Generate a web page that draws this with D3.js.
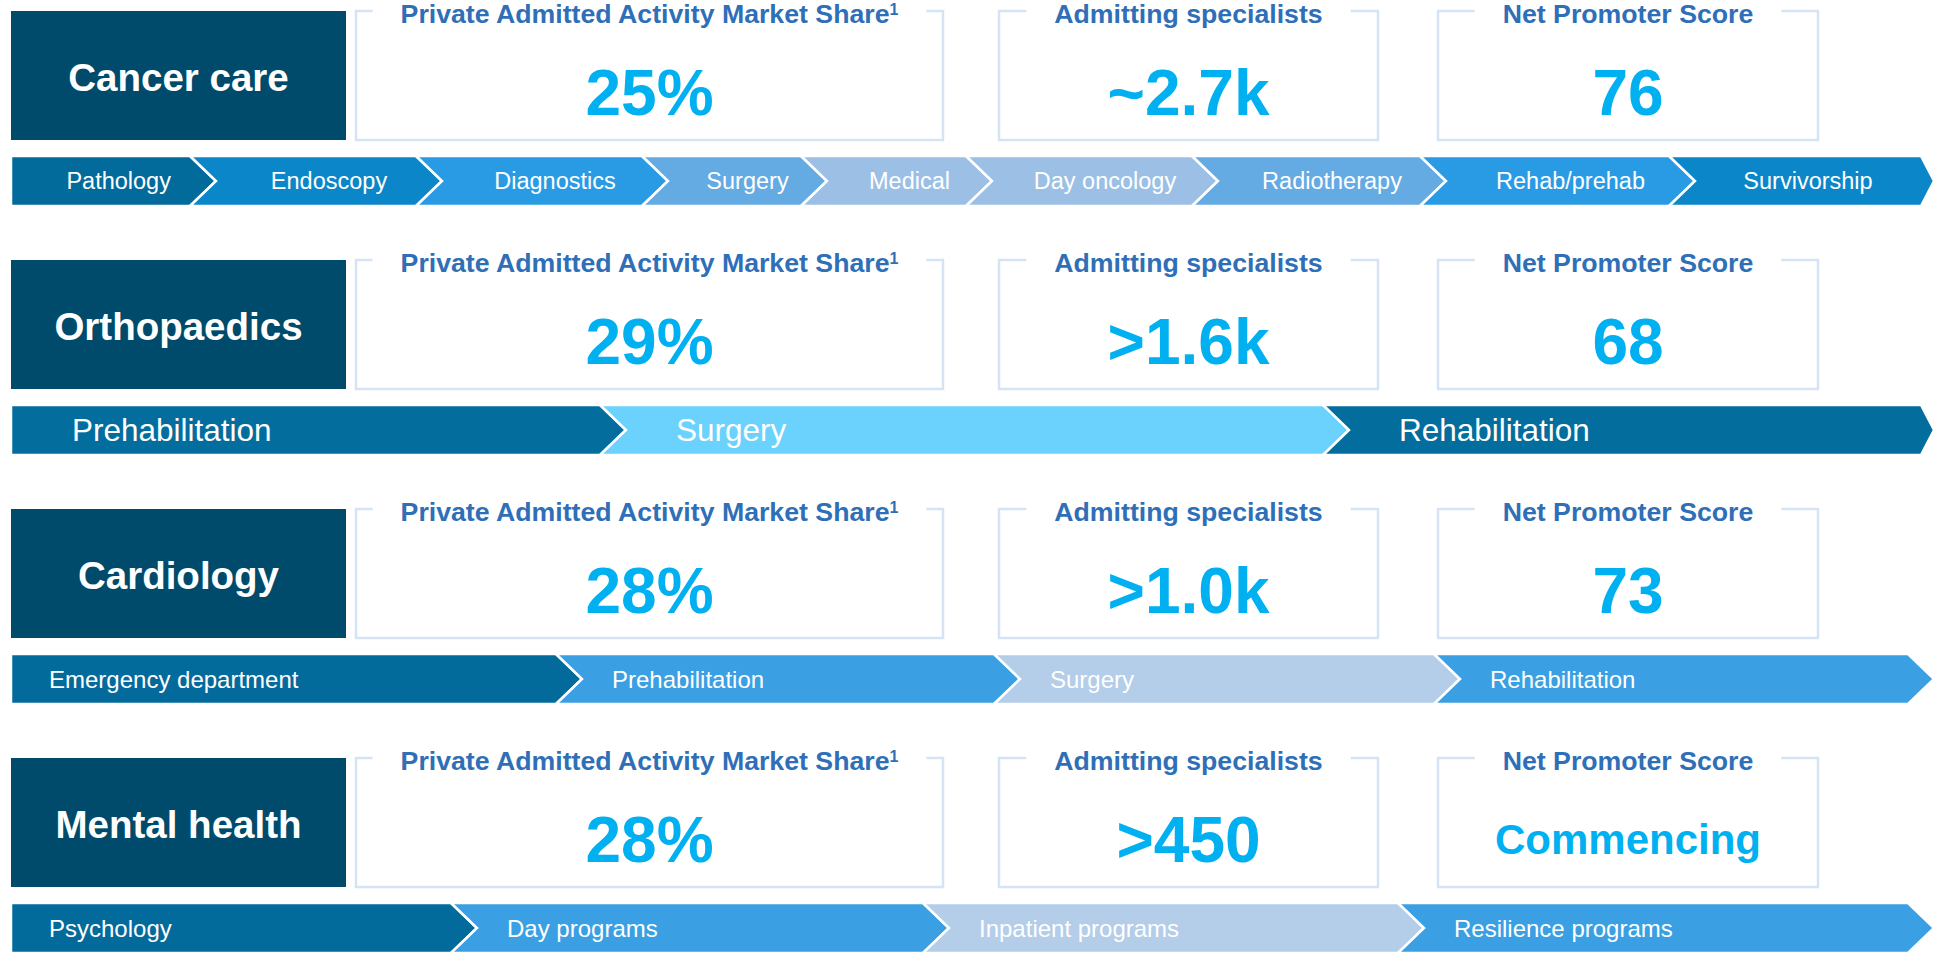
<!DOCTYPE html>
<html>
<head>
<meta charset="utf-8">
<script src="https://cdn.jsdelivr.net/npm/d3@7/dist/d3.min.js"></script>
<style>
  html, body { margin: 0; padding: 0; background: #ffffff; }
  svg { display: block; font-family: "Liberation Sans", Arial, Helvetica, sans-serif; }
</style>
</head>
<body>
<script>
// ---------------- DATA ----------------
const categories = ["Cancer care", "Orthopaedics", "Cardiology", "Mental health"];
const metricTitles = ["Private Admitted Activity Market Share", "Admitting specialists", "Net Promoter Score"];
const titleFootnotes = ["1", "", ""];
const marketShare = ["25%", "29%", "28%", "28%"];
const specialists = ["~2.7k", ">1.6k", ">1.0k", ">450"];
const promoterScore = ["76", "68", "73", "Commencing"];

const stageLabels = [
  ["Pathology", "Endoscopy", "Diagnostics", "Surgery", "Medical", "Day oncology", "Radiotherapy", "Rehab/prehab", "Survivorship"],
  ["Prehabilitation", "Surgery", "Rehabilitation"],
  ["Emergency department", "Prehabilitation", "Surgery", "Rehabilitation"],
  ["Psychology", "Day programs", "Inpatient programs", "Resilience programs"]
];
// relative width of each stage in its pathway band
const stageSpans = [
  [179, 226, 226, 159, 165, 226, 228, 249, 252],
  [589, 723, 598],
  [545, 438, 440, 474],
  [440, 472, 475, 510]
];

// ---------------- STYLE ----------------
const stageColors = [
  ["#036A9C", "#0B86C8", "#299BE4", "#64AAE3", "#9CC0E5", "#9CC0E5", "#64AAE3", "#299BE4", "#0B86C8"],
  ["#036E9E", "#6AD2FC", "#036E9E"],
  ["#036A9C", "#3A9FE3", "#B4CDE8", "#3A9FE3"],
  ["#036A9C", "#3A9FE3", "#B4CDE8", "#3A9FE3"]
];
const stageStyle = [
  { align: "center", fs: 23.5 },
  { align: "left", fs: 31.5, padFirst: 61, pad: 50 },
  { align: "left", fs: 24, padFirst: 38, pad: 30 },
  { align: "left", fs: 24, padFirst: 38, pad: 30 }
];
const labelFill = "#004B6B";
const titleColor = "#2E6FB7";
const valueColor = "#00B0F0";
const borderColor = "#D5E4F4";

const W = 1936, H = 953;
const boxH = 129;
const labelCol = [11, 346];
const metricCols = [[356, 943], [999, 1378], [1438, 1818]];
const chevOffset = 145, chevH = 50, depth = 26;
const capRatio = 0.716;

// ---------------- SCALES ----------------
const rowY = d3.scaleBand().domain(categories).range([11, 11 + 249 * categories.length]).padding(0);
const xStage = d3.scaleLinear().domain([0, 1910]).range([11, 1921]);

const svg = d3.select("body").append("svg").attr("width", W).attr("height", H);

categories.forEach((cat, i) => {
  const top = rowY(cat);
  const g = svg.append("g").attr("class", "row");

  // Category label box
  g.append("rect")
    .attr("x", labelCol[0]).attr("y", top)
    .attr("width", labelCol[1] - labelCol[0]).attr("height", boxH)
    .attr("fill", labelFill);
  const lfs = 38.5;
  g.append("text")
    .attr("x", (labelCol[0] + labelCol[1]) / 2)
    .attr("y", top + boxH / 2 + 1.5 + lfs * capRatio / 2)
    .attr("text-anchor", "middle")
    .attr("font-size", lfs).attr("font-weight", "bold").attr("fill", "#ffffff")
    .text(cat);

  // Metric boxes
  const values = [marketShare[i], specialists[i], promoterScore[i]];
  metricCols.forEach((c, j) => {
    const [x0, x1] = c;
    const cx = (x0 + x1) / 2;
    const bottom = top + boxH;
    const tfs = 26.7;
    const title = g.append("text")
      .attr("x", cx)
      .attr("y", top + 2 + tfs * capRatio / 2)
      .attr("text-anchor", "middle")
      .attr("font-size", tfs).attr("font-weight", "bold").attr("fill", titleColor);
    title.append("tspan").text(metricTitles[j]);
    if (titleFootnotes[j]) {
      title.append("tspan").attr("font-size", 16).attr("dy", -8).text(titleFootnotes[j]);
    }
    const tw = title.node().getComputedTextLength();
    const pad = 28;
    const gl = cx - tw / 2 - pad, gr = cx + tw / 2 + pad;
    const path = d3.path();
    path.moveTo(gr, top);
    path.lineTo(x1, top);
    path.lineTo(x1, bottom);
    path.lineTo(x0, bottom);
    path.lineTo(x0, top);
    path.lineTo(gl, top);
    g.insert("path", "text")
      .attr("d", path.toString())
      .attr("fill", "none").attr("stroke", borderColor).attr("stroke-width", 2.5);

    const v = values[j];
    const vfs = /^[~<>0-9.%k]+$/.test(v) ? 64 : 42;
    g.append("text")
      .attr("x", cx)
      .attr("y", top + 81 + vfs * capRatio / 2)
      .attr("text-anchor", "middle")
      .attr("font-size", vfs).attr("font-weight", "bold").attr("fill", valueColor)
      .text(v);
  });

  // Pathway chevrons
  const ct = top + chevOffset, cb = ct + chevH, cm = ct + chevH / 2;
  const spans = stageSpans[i];
  const cum = [0];
  spans.forEach(s => cum.push(cum[cum.length - 1] + s));
  const st = stageStyle[i];
  const n = spans.length;
  spans.forEach((s, k) => {
    const x0 = xStage(cum[k]), x1 = xStage(cum[k + 1]);
    const tip = Math.min(x1 + depth, 1934);
    const pts = [[x0, ct], [x1, ct], [tip, cm], [x1, cb], [x0, cb]];
    if (k > 0) pts.push([x0 + depth, cm]);
    g.append("polygon")
      .attr("points", pts.map(p => p.join(",")).join(" "))
      .attr("fill", stageColors[i][k])
      .attr("stroke", "#ffffff").attr("stroke-width", 2.5).attr("stroke-linejoin", "miter");

    let tx, anchor;
    if (st.align === "center") {
      anchor = "middle";
      if (k === 0) tx = (x0 + x1) / 2 + depth * 0.7;
      else if (k === n - 1) tx = (x0 + depth + x1) / 2;
      else tx = (x0 + x1) / 2 + depth;
    } else {
      anchor = "start";
      tx = k === 0 ? x0 + st.padFirst : x0 + depth + st.pad;
    }
    g.append("text")
      .attr("x", tx)
      .attr("y", cm + st.fs * capRatio / 2)
      .attr("text-anchor", anchor)
      .attr("font-size", st.fs).attr("fill", "#ffffff")
      .text(stageLabels[i][k]);
  });
});
</script>
</body>
</html>
